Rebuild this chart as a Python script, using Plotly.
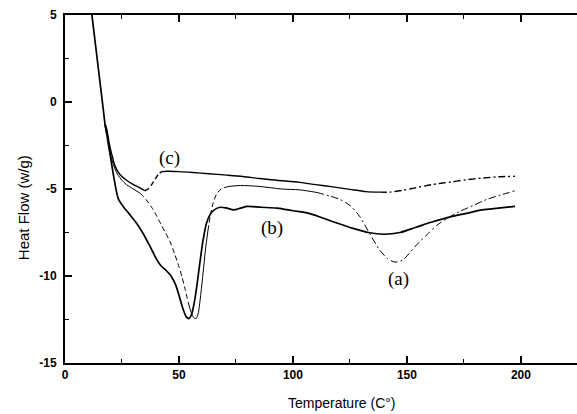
import plotly.graph_objects as go

# ---- data ----
start_x = [11.8, 13.5, 15.2, 16.8, 17.6]
start_y = [5.0, 3.15, 1.3, -0.44, -1.3]

b_x = [18.2, 19.0, 20.0, 21.0, 22.2, 23.5, 25.5, 28, 31, 34, 37.3, 40, 42, 44.5, 46.5, 48.5,
       50.2, 51.8, 53.2, 54.3, 55.4, 56.6, 57.8, 59, 60.5, 62, 63.5, 65.5, 68, 71, 74, 77, 80,
       86, 93, 100, 107, 117, 126, 133, 140, 147, 154, 161, 169, 176, 183, 190, 197.4]
b_y = [-1.75, -2.4, -3.2, -4.0, -4.9, -5.6, -6.0, -6.4, -6.9, -7.5, -8.3, -9.0, -9.4, -9.7,
       -10.0, -10.5, -11.2, -11.9, -12.35, -12.45, -12.25, -11.6, -10.6, -9.4, -8.0, -7.0,
       -6.5, -6.2, -6.05, -6.1, -6.2, -6.1, -6.0, -6.05, -6.1, -6.25, -6.4, -6.85, -7.25,
       -7.5, -7.6, -7.5, -7.2, -6.9, -6.6, -6.4, -6.2, -6.1, -6.0]

a_x = [18.3, 19.2, 20.3, 21.5, 23, 25, 27, 30, 33, 35.5, 38, 40, 42, 44, 46, 48, 49.6, 51.2,
       52.6, 54, 55.4, 56.5, 57.5, 58.5, 59.6, 60.6, 61.6, 62.7, 63.8, 65, 66.5, 68.5, 72, 77,
       85, 95, 103, 110.5, 116, 120.6, 125, 129.4, 133.8, 138, 141.5, 144.7, 148, 151, 155,
       159, 163, 167.5, 173, 179, 185, 191, 197.4]
a_y = [-1.7, -2.5, -3.2, -3.7, -4.15, -4.5, -4.75, -5.0, -5.25, -5.6, -6.05, -6.5, -7.0, -7.5,
       -8.0, -8.7, -9.3, -10.0, -10.7, -11.5, -12.1, -12.4, -12.45, -12.1, -11.0, -9.8, -8.5,
       -7.4, -6.5, -5.8, -5.3, -5.0, -4.85, -4.8, -4.85, -5.0, -5.05, -5.2, -5.4, -5.6, -5.95,
       -6.6, -7.6, -8.5, -9.0, -9.2, -9.1, -8.7, -8.1, -7.6, -7.1, -6.7, -6.3, -5.95, -5.6,
       -5.35, -5.1]

c_x = [18.4, 19.3, 20.5, 22, 24, 27, 30, 33, 35, 36.5, 38, 39.5, 41, 42.5, 45, 50, 56, 63, 71,
       78, 85.5, 93, 103, 110, 117.5, 125, 132, 138, 142.5, 148, 154, 161, 169, 176, 183, 190,
       197.4]
c_y = [-1.6, -2.3, -3.0, -3.7, -4.15, -4.5, -4.75, -4.95, -5.1, -5.0, -4.75, -4.45, -4.15,
       -4.0, -3.98, -4.0, -4.05, -4.12, -4.2, -4.28, -4.4, -4.5, -4.62, -4.75, -4.88, -5.02,
       -5.15, -5.18, -5.18, -5.08, -4.92, -4.75, -4.6, -4.47, -4.37, -4.3, -4.27]

labels = ["(a)", "(b)", "(c)"]
label_x = [146.5, 90.8, 46.0]
label_y = [-10.2, -7.25, -3.2]

x_ticks = [0, 50, 100, 150, 200]
y_ticks = [-15, -10, -5, 0, 5]

# ---- styles ----
DASH = "5px,3px"
DASHDOT = "7px,3px,2px,3px"
curves = [
    # (x, y, width, [(x_from, x_to, dash)])
    (b_x, b_y, 1.7, [(0, 999, "solid")]),
    (a_x, a_y, 1.0, [(0, 33, "solid"), (33, 54, DASH), (54, 62.7, "solid"),
                     (62.7, 72, DASH), (72, 110.5, "solid"), (110.5, 999, DASHDOT)]),
    (c_x, c_y, 1.4, [(0, 35, "solid"), (35, 42.5, DASH), (42.5, 138, "solid"),
                     (138, 999, DASHDOT)]),
]

fig = go.Figure()
fig.add_trace(go.Scatter(x=start_x + [b_x[0]], y=start_y + [b_y[0]], mode="lines",
                         line=dict(color="black", width=1.7, shape="spline"),
                         showlegend=False, hoverinfo="skip"))
for xs, ys, w, segs in curves:
    fx = [start_x[-1]] + xs
    fy = [start_y[-1]] + ys
    for lo, hi, dash in segs:
        sx = [x for x in fx if lo <= x <= hi]
        sy = [y for x, y in zip(fx, fy) if lo <= x <= hi]
        fig.add_trace(go.Scatter(x=sx, y=sy, mode="lines",
                                 line=dict(color="black", width=w, dash=dash, shape="spline",
                                           smoothing=0.8),
                                 showlegend=False, hoverinfo="skip"))

for t, lx, ly in zip(labels, label_x, label_y):
    fig.add_annotation(x=lx, y=ly, text=t, showarrow=False,
                       font=dict(family="Liberation Serif", size=19, color="black"))

# axis titles
fig.add_annotation(xref="paper", yref="paper", x=0.541, y=-0.115, text="Temperature (C°)",
                   showarrow=False, font=dict(family="Liberation Sans", size=14, color="black"),
                   xanchor="center", yanchor="middle")
fig.add_annotation(xref="paper", yref="paper", x=-0.082, y=0.445, text="Heat Flow (w/g)",
                   showarrow=False, textangle=-90,
                   font=dict(family="Liberation Sans", size=15, color="black"),
                   xanchor="center", yanchor="middle")

tickfont = dict(family="Liberation Sans", size=12, color="black", weight="bold")
fig.update_layout(
    width=577, height=414,
    margin=dict(l=65, r=0, t=15, b=51),
    paper_bgcolor="white", plot_bgcolor="white",
    xaxis=dict(range=[0, 224.6], tickvals=x_ticks, ticktext=[str(v) for v in x_ticks],
               ticks="inside", ticklen=7, tickwidth=1.5, tickcolor="black",
               showline=True, linecolor="black", linewidth=2, mirror="ticks",
               showgrid=False, zeroline=False, tickfont=tickfont,
               minor=dict(dtick=25, ticks="inside", ticklen=4, tickwidth=1.2,
                          tickcolor="black", showgrid=False)),
    yaxis=dict(range=[-15, 5], tickvals=y_ticks, ticktext=[str(v) for v in y_ticks],
               ticks="inside", ticklen=7, tickwidth=1.5, tickcolor="black",
               showline=True, linecolor="black", linewidth=2, mirror=False,
               showgrid=False, zeroline=False, tickfont=tickfont, ticklabelstandoff=4,
               minor=dict(dtick=2.5, ticks="inside", ticklen=4, tickwidth=1.2,
                          tickcolor="black", showgrid=False)),
)

fig.write_html("out.html")
